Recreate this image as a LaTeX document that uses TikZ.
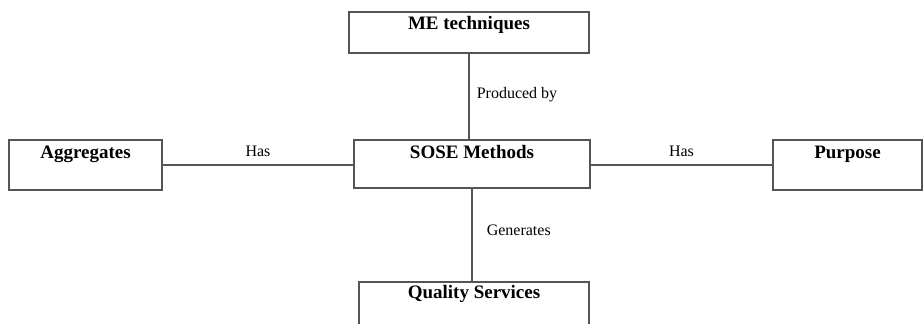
\documentclass[tikz,border=0pt]{standalone}
\usepackage{fontspec}
\setmainfont{Liberation Serif}
\usepackage{tikz}
\definecolor{boxline}{RGB}{85,85,85}

\tikzset{
  % boxes with the title set near the top edge
  entity/.style={draw=boxline,line width=1.5pt,anchor=north,inner xsep=0pt,inner ysep=0pt,
    font=\fontsize{19}{22}\selectfont\bfseries},
  rel/.style={draw=boxline,line width=1.6pt},
  rellabel/.style={font=\fontsize{16}{19}\selectfont,inner sep=2pt}
}

\begin{document}
\begin{tikzpicture}[x=1pt,y=-1pt]
  \useasboundingbox (0,0) rectangle (924,324);
  \node[entity,minimum width=240pt,text height=18pt,text depth=23pt] (tech) at (469,11) {ME techniques};
  \node[entity,minimum width=153pt,text height=19pt,text depth=31pt] (aggr) at (85.5,139) {Aggregates};
  \node[entity,minimum width=236pt,text height=19pt,text depth=29pt] (sose) at (472,139) {SOSE Methods};
  \node[entity,minimum width=230pt,text height=17pt,text depth=33pt] (qual) at (474,281) {Quality Services};
  \node[entity,minimum width=149pt,text height=19pt,text depth=31pt] (purp) at (847.5,139) {Purpose};

  \draw[rel] (tech.south) -- (tech.south |- sose.north)
    node[rellabel,midway,anchor=base west,xshift=5pt,yshift=-2pt] {Produced by};
  \draw[rel] (aggr.east) -- (aggr.east -| sose.west)
    node[rellabel,midway,above,yshift=5pt] {Has};
  \draw[rel] (sose.east |- purp.west) -- (purp.west)
    node[rellabel,midway,above,yshift=5pt] {Has};
  \draw[rel] (sose.south) -- (sose.south |- qual.north)
    node[rellabel,midway,anchor=base west,xshift=12pt,yshift=-1pt] {Generates};
\end{tikzpicture}
\end{document}
